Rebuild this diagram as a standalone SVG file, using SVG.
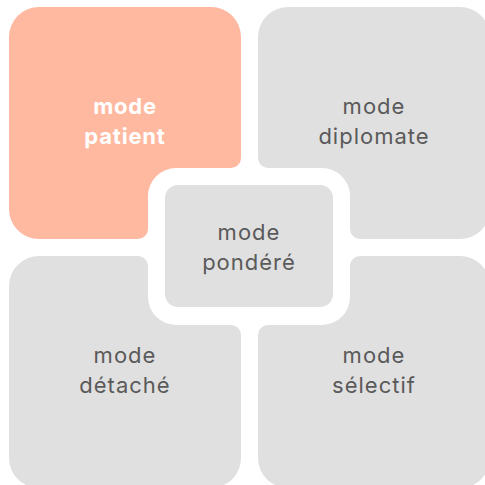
<svg xmlns="http://www.w3.org/2000/svg" width="485" height="485" viewBox="0 0 485 485">
<style>
.q{fill:#e0e0e0}
.hl{fill:#ffb9a0}
.t{font-family:Inter,"Noto Sans",sans-serif;font-size:22px;fill:#5a5a5a;text-anchor:middle;letter-spacing:1px}
.tb{font-family:Inter,"Noto Sans",sans-serif;font-size:22px;fill:#ffffff;font-weight:700;text-anchor:middle;letter-spacing:0.8px}
</style>
<rect width="485" height="485" fill="#ffffff"/>
<g id="connectors"></g>
<g id="mode-patient">
<path class="hl" d="M39,7 H211 A30,30 0 0 1 241,37 V158 A10,10 0 0 1 231,168 H176 A28,28 0 0 0 148,196 V229 A10,10 0 0 1 138,239 H39 A30,30 0 0 1 9,209 V37 A30,30 0 0 1 39,7 Z"/>
<text class="tb" x="125" y="114">mode</text>
<text class="tb" x="125" y="144">patient</text>
</g>
<g id="mode-diplomate">
<path class="q" d="M288,7 H460 A30,30 0 0 1 490,37 V209 A30,30 0 0 1 460,239 H360 A10,10 0 0 1 350,229 V196 A28,28 0 0 0 322,168 H268 A10,10 0 0 1 258,158 V37 A30,30 0 0 1 288,7 Z"/>
<text class="t" x="374" y="114">mode</text>
<text class="t" x="374" y="144">diplomate</text>
</g>
<g id="mode-detache">
<path class="q" d="M39,256 H138 A10,10 0 0 1 148,266 V297 A28,28 0 0 0 176,325 H231 A10,10 0 0 1 241,335 V458 A30,30 0 0 1 211,488 H39 A30,30 0 0 1 9,458 V286 A30,30 0 0 1 39,256 Z"/>
<text class="t" x="125" y="363">mode</text>
<text class="t" x="125" y="393">détaché</text>
</g>
<g id="mode-selectif">
<path class="q" d="M360,256 H460 A30,30 0 0 1 490,286 V458 A30,30 0 0 1 460,488 H288 A30,30 0 0 1 258,458 V335 A10,10 0 0 1 268,325 H322 A28,28 0 0 0 350,297 V266 A10,10 0 0 1 360,256 Z"/>
<text class="t" x="374" y="363">mode</text>
<text class="t" x="374" y="393">sélectif</text>
</g>
<g id="mode-pondere">
<rect class="q" x="165" y="185" width="168" height="122" rx="13"/>
<text class="t" x="249" y="240">mode</text>
<text class="t" x="249" y="270">pondéré</text>
</g>
</svg>
